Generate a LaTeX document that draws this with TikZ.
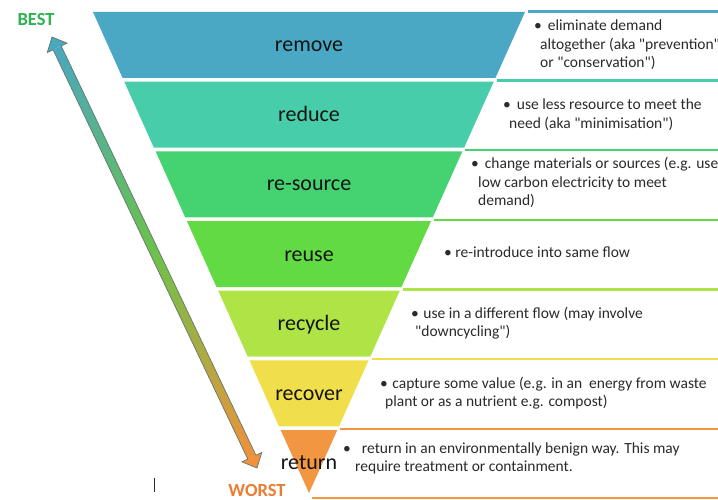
\documentclass[tikz,border=0pt]{standalone}
\usepackage{fontspec}
\setmainfont{Carlito}[Ligatures=TeXOff]
\usetikzlibrary{calc}
\definecolor{cRemove}{HTML}{4BA8C4}
\definecolor{cReduce}{HTML}{48CDAA}
\definecolor{cResource}{HTML}{45D270}
\definecolor{cReuse}{HTML}{62DA44}
\definecolor{cRecycle}{HTML}{AEE446}
\definecolor{cRecover}{HTML}{F0DE4B}
\definecolor{cReturn}{HTML}{F29641}
\definecolor{aTopC}{HTML}{4AA8BE}
\definecolor{aMidC}{HTML}{6CC24A}
\definecolor{aBotC}{HTML}{F0913C}
\definecolor{arrowEdge}{HTML}{66786E}
\definecolor{labelC}{HTML}{141414}
\definecolor{descC}{HTML}{2A2A2A}
\definecolor{bestC}{HTML}{2DB450}
\definecolor{worstC}{HTML}{EB7D32}
\begin{document}
\begin{tikzpicture}[x=1pt,y=-1pt,
  lbl/.style={font=\fontsize{22}{26}\selectfont, text=labelC, inner sep=0pt, anchor=base},
  desc/.style={font=\fontsize{15.5}{18.5}\selectfont, text=descC, align=left, inner sep=0pt, anchor=base west},
  sepline/.style={line width=2.2pt},
  endlabel/.style={font=\fontsize{18.5}{22}\selectfont\bfseries, inner sep=0pt, anchor=base},
  arrowline/.style={draw=arrowEdge, line width=0.7pt, line join=miter}]
\useasboundingbox (0,0) rectangle (718,500);
\clip (0,0) rectangle (718,500);
\fill[white] (0,0) rectangle (718,500);

% inverted pyramid bands
\fill[cRemove]   (93,12)    -- (525,12)    -- (495.4,78)    -- (122.6,78) -- cycle;
\fill[cReduce]   (124.3,81.7) -- (493.7,81.7) -- (464.1,147.7) -- (153.9,147.7) -- cycle;
\fill[cResource] (155.6,151.3) -- (462.4,151.3) -- (432.8,217.3) -- (185.2,217.3) -- cycle;
\fill[cReuse]    (186.9,221) -- (431.1,221) -- (401.5,287) -- (216.5,287) -- cycle;
\fill[cRecycle]  (218.2,290.7) -- (399.8,290.7) -- (370.2,356.7) -- (247.8,356.7) -- cycle;
\fill[cRecover]  (249.4,360.3) -- (368.6,360.3) -- (339,426.3) -- (279,426.3) -- cycle;
\fill[cReturn]   (280.7,430) -- (337.3,430) -- (309,493) -- cycle;

% separator lines of the description rows
\coordinate (r1) at (528,11.5);   \coordinate (e1) at (718,11.5);
\coordinate (r2) at (496.5,80.5); \coordinate (e2) at (718,80.5);
\coordinate (r3) at (465,150);    \coordinate (e3) at (718,150);
\coordinate (r4) at (434,219.8);  \coordinate (e4) at (718,219.8);
\coordinate (r5) at (403,289.5);  \coordinate (e5) at (718,289.5);
\coordinate (r6) at (372,359);    \coordinate (e6) at (718,359);
\coordinate (r7) at (340,429);    \coordinate (e7) at (718,429);
\coordinate (r8) at (312,498);    \coordinate (e8) at (718,498);
\draw[sepline, cRemove]   (r1) -- (e1);
\draw[sepline, cReduce]   (r2) -- (e2);
\draw[sepline, cResource] (r3) -- (e3);
\draw[sepline, cReuse]    (r4) -- (e4);
\draw[sepline, cRecycle]  (r5) -- (e5);
\draw[sepline, cRecover]  (r6) -- (e6);
\draw[sepline, cReturn]   (r7) -- (e7);
\draw[sepline, cReturn]   (r8) -- (e8);

% band labels
\node[lbl] (lremove)   at (309,52)    {remove};
\node[lbl] (lreduce)   at (309,121.5) {reduce};
\node[lbl] (lresource) at (309,191)   {re-source};
\node[lbl] (lreuse)    at (309,261)   {reuse};
\node[lbl] (lrecycle)  at (309,330.5) {recycle};
\node[lbl] (lrecover)  at (309,400)   {recover};
\node[lbl] (lreturn)   at (309,469.5) {return};

% descriptions (anchor = baseline of the last line)
\node[desc] (dremove) at (534,68)
  {\textbullet\hspace{6pt}eliminate demand\\\hspace*{6pt}altogether (aka "prevention"\\\hspace*{6pt}or "conservation")};
\node[desc] (dreduce) at (503,128.5)
  {\textbullet\hspace{6pt}use less resource to meet the\\\hspace*{6pt}need (aka "minimisation")};
\node[desc] (dresource) at (471,206)
  {\textbullet\hspace{6pt}change materials or sources (e.g. use\\\hspace*{7pt}low carbon electricity to meet\\\hspace*{7pt}demand)};
\node[desc] (dreuse) at (444,257)
  {\textbullet\hspace{3.5pt}re-introduce into same flow};
\node[desc] (drecycle) at (411,336.5)
  {\textbullet\hspace{4.5pt}use in a different flow (may involve\\\hspace*{4pt}"downcycling")};
\node[desc] (drecover) at (380,406.5)
  {\textbullet\hspace{4.5pt}capture some value (e.g. in an\ \ energy from waste\\\hspace*{5pt}plant or as a nutrient e.g. compost)};
\node[desc] (dreturn) at (343,471.5)
  {\textbullet\hspace{11pt}return in an environmentally benign way. This may\\\hspace*{12pt}require treatment or containment.};

% best / worst
\node[endlabel, text=bestC]  (best)  at (36,26)  {BEST};
\node[endlabel, text=worstC] (worst) at (257,496.5) {WORST};

% double gradient arrow
\coordinate (aTop) at (52,37);
\coordinate (aBot) at (257,468);
\coordinate (hT) at ($(aTop)!12pt!(aBot)$);
\coordinate (hB) at ($(aBot)!12pt!(aTop)$);
\foreach \i in {0,...,19} {
  \pgfmathsetmacro\ta{\i/40}
  \pgfmathsetmacro\tb{(\i+1.4)/40}
  \pgfmathtruncatemacro\pc{(\i+0.5)*5}
  \fill[aMidC!\pc!aTopC]
    ($(hT)!\ta!(hB)!4.5pt!90:(aBot)$) -- ($(hT)!\tb!(hB)!4.5pt!90:(aBot)$)
    -- ($(hT)!\tb!(hB)!4.5pt!-90:(aBot)$) -- ($(hT)!\ta!(hB)!4.5pt!-90:(aBot)$) -- cycle;
}
\foreach \i in {20,...,39} {
  \pgfmathsetmacro\ta{\i/40}
  \pgfmathsetmacro\tb{min(1,(\i+1.4)/40)}
  \pgfmathtruncatemacro\pc{(\i-19.5)*5}
  \fill[aBotC!\pc!aMidC]
    ($(hT)!\ta!(hB)!4.5pt!90:(aBot)$) -- ($(hT)!\tb!(hB)!4.5pt!90:(aBot)$)
    -- ($(hT)!\tb!(hB)!4.5pt!-90:(aBot)$) -- ($(hT)!\ta!(hB)!4.5pt!-90:(aBot)$) -- cycle;
}
\fill[aTopC] (aTop) -- ($(hT)!11pt!90:(aBot)$) -- ($(hT)!11pt!-90:(aBot)$) -- cycle;
\fill[aBotC] (aBot) -- ($(hB)!11pt!90:(aBot)$) -- ($(hB)!11pt!-90:(aBot)$) -- cycle;
\draw[arrowline] (aTop) -- ($(hT)!11pt!90:(aBot)$) -- ($(hT)!4.5pt!90:(aBot)$)
  -- ($(hB)!4.5pt!90:(aBot)$) -- ($(hB)!11pt!90:(aBot)$) -- (aBot)
  -- ($(hB)!11pt!-90:(aBot)$) -- ($(hB)!4.5pt!-90:(aBot)$)
  -- ($(hT)!4.5pt!-90:(aBot)$) -- ($(hT)!11pt!-90:(aBot)$) -- cycle;

% stray cursor mark
\coordinate (cur1) at (154.5,478);
\coordinate (cur2) at (154.5,492);
\draw[line width=1.3pt, descC] (cur1) -- (cur2);
\end{tikzpicture}
\end{document}
